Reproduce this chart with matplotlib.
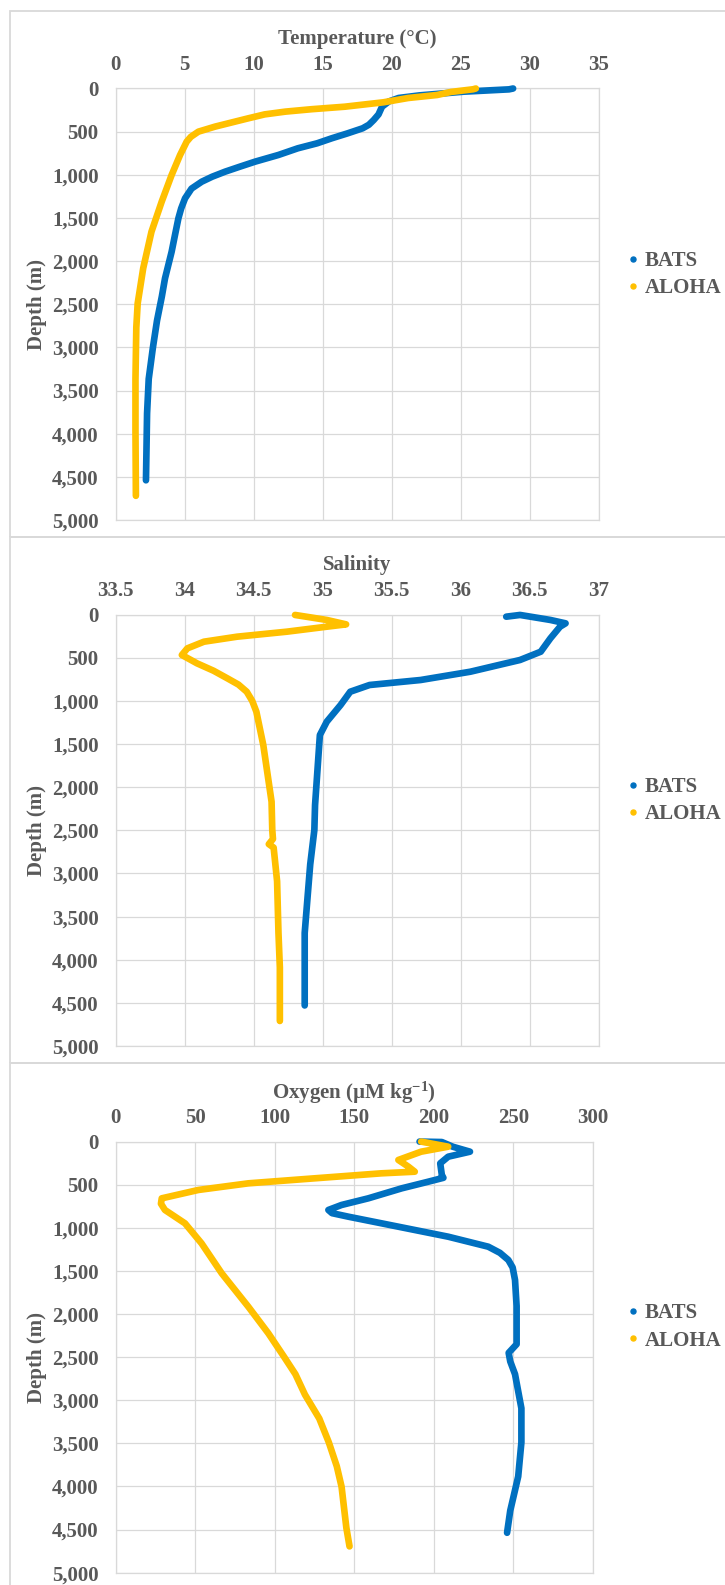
import matplotlib
matplotlib.use('Agg')
import matplotlib.pyplot as plt
from matplotlib.patches import Rectangle
from matplotlib.lines import Line2D
from matplotlib.ticker import FuncFormatter, FixedLocator

# ---------------- data ----------------
bats_temp_depth = [0, 10, 37, 80, 110, 150, 211, 300, 365, 420, 461, 520, 577, 635, 693, 770,
                   848, 906, 964, 1022, 1080, 1160, 1273, 1390, 1504, 1700, 1891, 2200, 2410,
                   2690, 3005, 3365, 3765, 4160, 4540]
bats_temp = [28.8, 28.5, 25.2, 22.0, 20.5, 19.8, 19.3, 19.05, 18.7, 18.35, 17.9, 16.8, 15.66,
             14.6, 13.2, 11.8, 10.1, 9.0, 7.93, 7.0, 6.24, 5.5, 5.03, 4.75, 4.55, 4.3, 4.06,
             3.58, 3.35, 3.0, 2.7, 2.4, 2.28, 2.24, 2.2]

aloha_temp_depth = [0, 9, 40, 75, 110, 160, 211, 240, 268, 300, 346, 442, 500, 560, 616, 771,
                    1002, 1311, 1659, 2083, 2490, 2770, 3365, 3960, 4720]
aloha_temp = [26.1, 25.9, 24.3, 23.3, 21.2, 19.4, 16.6, 14.2, 12.3, 10.8, 9.6, 7.2, 6.0, 5.45,
              5.15, 4.67, 4.06, 3.34, 2.6, 2.0, 1.6, 1.5, 1.44, 1.44, 1.47]

bats_sal_depth = [23, 3, 61, 100, 139, 274, 429, 525, 661, 757, 815, 893, 1047, 1240, 1395,
                  1627, 2207, 2495, 2895, 3290, 3690, 4090, 4530]
bats_sal = [36.33, 36.43, 36.65, 36.76, 36.72, 36.65, 36.58, 36.43, 36.07, 35.71, 35.34, 35.20,
            35.13, 35.03, 34.98, 34.97, 34.945, 34.94, 34.91, 34.89, 34.87, 34.87, 34.87]

aloha_sal_depth = [3, 23, 61, 112, 139, 197, 255, 313, 390, 467, 564, 650, 738, 810, 893, 1000,
                   1125, 1511, 2168, 2495, 2600, 2660, 2700, 3090, 3690, 4090, 4710]
aloha_sal = [34.80, 34.88, 35.03, 35.17, 35.03, 34.74, 34.38, 34.14, 34.02, 33.98, 34.09, 34.21,
             34.31, 34.39, 34.45, 34.49, 34.52, 34.57, 34.63, 34.635, 34.64, 34.61, 34.645, 34.67,
             34.68, 34.69, 34.69]

bats_oxy_depth = [0, 5, 60, 117, 175, 252, 387, 420, 465, 542, 658, 735, 793, 830, 871, 987,
                  1103, 1219, 1290, 1373, 1460, 1605, 1907, 2224, 2350, 2450, 2550, 2698, 3093,
                  3489, 3884, 4280, 4537]
bats_oxy = [191, 205, 212, 222.7, 209, 204, 205, 206, 196.5, 179.8, 158.8, 142, 133.7, 136,
            146.3, 177.7, 209, 234.2, 241.5, 246.8, 249.5, 251, 252, 252, 252, 247, 248, 251,
            255, 255, 253, 248, 246]

aloha_oxy_depth = [0, 59, 117, 213, 291, 349, 368, 426, 484, 561, 658, 720, 793, 948, 1180,
                   1528, 1915, 2224, 2500, 2698, 2935, 3212, 3489, 3766, 4003, 4478, 4695]
aloha_oxy = [192, 209, 192, 177.7, 184, 188, 167, 125, 83.4, 52, 29, 28.5, 31, 43.6, 54,
             66.7, 83.4, 96, 106, 113, 119, 128, 134, 139, 142, 145, 147]

temp_ticks = [0, 5, 10, 15, 20, 25, 30, 35]
sal_ticks = [33.5, 34, 34.5, 35, 35.5, 36, 36.5, 37]
oxy_ticks = [0, 50, 100, 150, 200, 250, 300]
depth_ticks = list(range(0, 5001, 500))

series_names = ['BATS', 'ALOHA']
colors = ['#0070C0', '#FFC000']

# ---------------- styling ----------------
plt.rcParams['font.family'] = ['Liberation Serif', 'DejaVu Serif']
plt.rcParams['font.weight'] = 'bold'
plt.rcParams['mathtext.fontset'] = 'custom'
plt.rcParams['mathtext.rm'] = 'Liberation Serif:bold'
plt.rcParams['mathtext.it'] = 'Liberation Serif:bold'
plt.rcParams['mathtext.bf'] = 'Liberation Serif:bold'
TXT = '#595959'
GRID = '#D9D9D9'
FS = 15

W, H = 725, 1585
fig = plt.figure(figsize=(W / 100, H / 100), dpi=100)


def px_axes(l, t, r, b):
    return fig.add_axes([l / W, 1 - b / H, (r - l) / W, (b - t) / H])


panels = [
    dict(box=(115.6, 88.5, 598.7, 520.0), title='Temperature (°C)', title_y=38.6,
         xt=temp_ticks, xlim=(0, 35), data=[(bats_temp, bats_temp_depth), (aloha_temp, aloha_temp_depth)],
         frame=(10, 11, 740, 537), leg_y=274.5),
    dict(box=(115.6, 614.7, 598.7, 1046.0), title='Salinity', title_y=565.0,
         xt=sal_ticks, xlim=(33.5, 37), data=[(bats_sal, bats_sal_depth), (aloha_sal, aloha_sal_depth)],
         frame=(10, 537, 740, 1063), leg_y=800.5),
    dict(box=(115.6, 1141.6, 593.0, 1572.7), title='Oxygen (µM kg$^{-1}$)', title_y=1092.6,
         xt=oxy_ticks, xlim=(0, 300), data=[(bats_oxy, bats_oxy_depth), (aloha_oxy, aloha_oxy_depth)],
         frame=(10, 1063, 740, 1600), leg_y=1327.0),
]

for p in panels:
    fl, ft, fr, fb = p['frame']
    fig.add_artist(Rectangle((fl / W, 1 - fb / H), (fr - fl) / W, (fb - ft) / H,
                             transform=fig.transFigure, fill=False, ec=GRID, lw=1.3, clip_on=False))
    l, t, r, b = p['box']
    ax = px_axes(l, t, r, b)
    for (vals, dep), c in zip(p['data'], colors):
        ax.plot(vals, dep, color=c, lw=4.8, solid_capstyle='round', solid_joinstyle='round',
                zorder=3, clip_on=False)
    ax.set_xlim(*p['xlim'])
    ax.set_ylim(5000, 0)
    ax.xaxis.set_major_locator(FixedLocator(p['xt']))
    ax.yaxis.set_major_locator(FixedLocator(depth_ticks))
    ax.xaxis.set_major_formatter(FuncFormatter(lambda v, pos: f'{v:g}'))
    ax.yaxis.set_major_formatter(FuncFormatter(lambda v, pos: f'{int(v):,}'))
    ax.xaxis.tick_top()
    ax.tick_params(axis='both', length=0, labelsize=FS, labelcolor=TXT)
    ax.tick_params(axis='x', pad=9.6)
    ax.tick_params(axis='y', pad=12.3)
    for lab in ax.get_xticklabels() + ax.get_yticklabels():
        lab.set_fontweight('bold')
    ax.grid(True, color=GRID, lw=0.9)
    ax.set_axisbelow(True)
    for s in ax.spines.values():
        s.set_color(GRID)
        s.set_linewidth(0.9)
    fig.text((l + r) / 2 / W, 1 - p['title_y'] / H, p['title'], ha='center', va='center',
             fontsize=FS, color=TXT, fontweight='bold')
    fig.text(37 / W, 1 - ((t + b) / 2) / H, 'Depth (m)', rotation=90, ha='center', va='center',
             fontsize=FS, color=TXT, fontweight='bold')
    handles = [Line2D([], [], ls='none', marker='o', ms=3.6, color=c, mec=c) for c in colors]
    leg = fig.legend(handles, series_names, loc='center left',
                     bbox_to_anchor=(626.8 / W, 1 - p['leg_y'] / H), bbox_transform=fig.transFigure,
                     frameon=False, borderpad=0, borderaxespad=0, handlelength=0.6,
                     handletextpad=0.28, labelspacing=0.35, prop=dict(size=FS, weight='bold'))
    for txt in leg.get_texts():
        txt.set_color(TXT)

fig.savefig('out.png', dpi=100)
